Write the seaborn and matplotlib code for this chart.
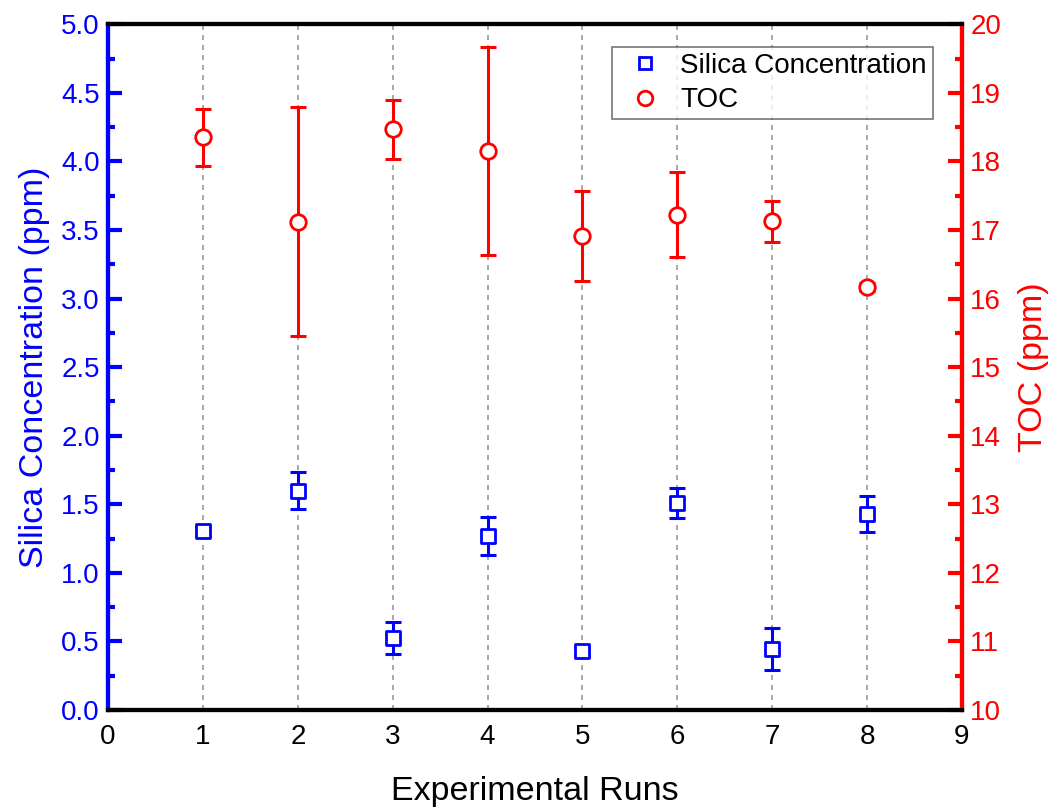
import numpy as np
import pandas as pd
import matplotlib
matplotlib.use("Agg")
import matplotlib.pyplot as plt
import seaborn as sns
from matplotlib.ticker import MultipleLocator
from matplotlib.lines import Line2D

runs = [1, 2, 3, 4, 5, 6, 7, 8]
silica = [1.305, 1.60, 0.525, 1.27, 0.43, 1.51, 0.445, 1.43]
silica_err = [0.03, 0.135, 0.115, 0.14, 0.025, 0.11, 0.15, 0.13]
toc = [18.35, 17.12, 18.47, 18.15, 16.91, 17.22, 17.13, 16.17]
toc_err = [0.41, 1.67, 0.43, 1.52, 0.66, 0.62, 0.30, 0.06]

sns.set_style("white")
plt.rcParams['font.family'] = ['Liberation Sans', 'DejaVu Sans']
plt.rcParams['text.color'] = 'black'

df = pd.DataFrame({"run": runs, "silica": silica, "silica_err": silica_err,
                   "toc": toc, "toc_err": toc_err})

fig = plt.figure(figsize=(10.6, 8.1), dpi=100)
ax = fig.add_axes([0.102, 0.1235, 0.8055, 0.8465])
ax2 = ax.twinx()

blue = "#0000FF"
red = "#FF0000"

ax.errorbar(df["run"], df["silica"], yerr=df["silica_err"], fmt="none",
            ecolor=blue, elinewidth=2.2, capsize=5.5, capthick=2.2, zorder=3)
sns.scatterplot(data=df, x="run", y="silica", ax=ax, marker="s", s=95,
                facecolor="white", edgecolor=blue, linewidth=2,
                zorder=4, legend=False)

ax2.errorbar(df["run"], df["toc"], yerr=df["toc_err"], fmt="none",
             ecolor=red, elinewidth=2.2, capsize=5.5, capthick=2.2, zorder=3)
sns.scatterplot(data=df, x="run", y="toc", ax=ax2, marker="o", s=125,
                facecolor="white", edgecolor=red, linewidth=2,
                zorder=4, legend=False)

ax.set_xlim(0, 9)
ax.set_ylim(0, 5)
ax2.set_ylim(10, 20)

ax.xaxis.set_major_locator(MultipleLocator(1))
ax.xaxis.set_minor_locator(MultipleLocator(0.5))
ax.yaxis.set_major_locator(MultipleLocator(0.5))
ax.yaxis.set_minor_locator(MultipleLocator(0.25))
ax2.yaxis.set_major_locator(MultipleLocator(1))
ax2.yaxis.set_minor_locator(MultipleLocator(0.5))
ax.yaxis.set_major_formatter(matplotlib.ticker.FormatStrFormatter('%.1f'))

ax.grid(axis='x', which='major', linestyle=(0, (3, 3)), color='#999999', linewidth=1.2)
ax.grid(axis='y', visible=False)
ax2.grid(False)
ax.set_axisbelow(True)

for a in (ax, ax2):
    for s in a.spines.values():
        s.set_linewidth(3)
ax2.spines['left'].set_color(blue)
ax2.spines['right'].set_color(red)
ax2.spines['top'].set_color('black')
ax2.spines['bottom'].set_color('black')
ax.spines['left'].set_color(blue)

ax.tick_params(axis='x', which='major', direction='in', length=8, width=3, colors='black',
               labelsize=20, pad=10, top=False)
ax.tick_params(axis='x', which='minor', direction='in', length=4, width=3, colors='black', top=False)
ax.tick_params(axis='y', which='major', direction='in', length=10, width=3, colors=blue,
               labelsize=20, pad=6)
ax.tick_params(axis='y', which='minor', direction='in', length=5, width=3, colors=blue)
ax2.tick_params(axis='y', which='major', direction='in', length=10, width=3, colors=red,
                labelsize=20, pad=6)
ax2.tick_params(axis='y', which='minor', direction='in', length=5, width=3, colors=red)

ax.set_xlabel("Experimental Runs", fontsize=24.5, labelpad=19, color='black')
ax.set_ylabel("Silica Concentration (ppm)", fontsize=24.5, color=blue, labelpad=8)
ax2.set_ylabel("TOC (ppm)", fontsize=24.5, color=red, labelpad=12)

handles = [Line2D([], [], marker='s', linestyle='none', markerfacecolor='white',
                  markeredgecolor=blue, markeredgewidth=2, markersize=9),
           Line2D([], [], marker='o', linestyle='none', markerfacecolor='white',
                  markeredgecolor=red, markeredgewidth=2, markersize=10.5)]
leg = ax2.legend(handles, ["Silica Concentration", "TOC"], loc='upper right',
                 bbox_to_anchor=(0.966, 0.967), fontsize=20, frameon=True,
                 fancybox=False, edgecolor='#555555', handletextpad=0.33,
                 borderpad=0.22, labelspacing=0.3, handlelength=1.9,
                 borderaxespad=0.0, labelcolor='black')
leg.get_frame().set_linewidth(1.2)

fig.savefig("out.png", dpi=100)
